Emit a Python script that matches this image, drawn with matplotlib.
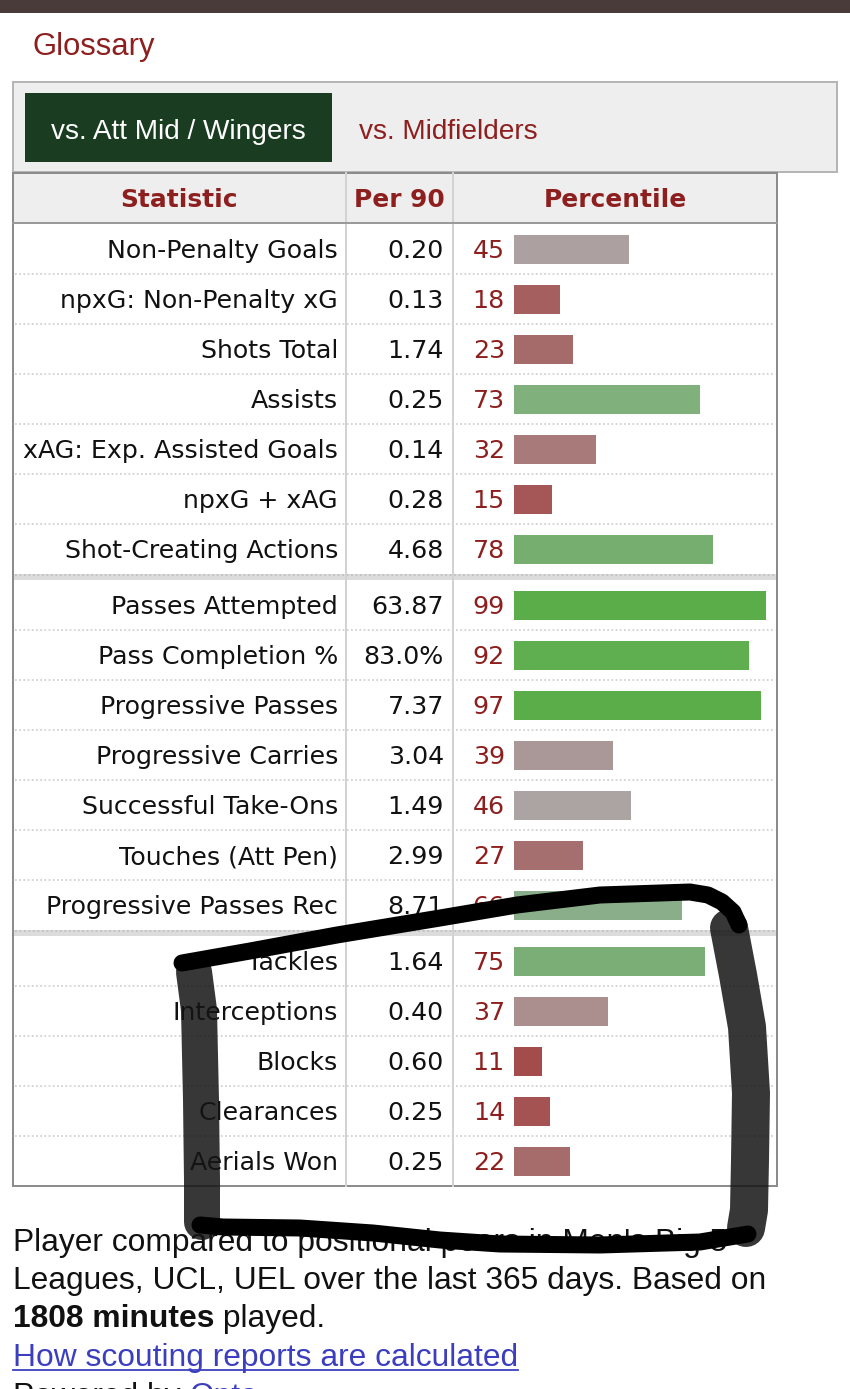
import matplotlib
matplotlib.use("Agg")
import matplotlib.pyplot as plt
from matplotlib.patches import Rectangle
import numpy as np

# ---------------- data ----------------
statistics = ["Non-Penalty Goals", "npxG: Non-Penalty xG", "Shots Total", "Assists",
              "xAG: Exp. Assisted Goals", "npxG + xAG", "Shot-Creating Actions",
              "Passes Attempted", "Pass Completion %", "Progressive Passes",
              "Progressive Carries", "Successful Take-Ons", "Touches (Att Pen)",
              "Progressive Passes Rec",
              "Tackles", "Interceptions", "Blocks", "Clearances", "Aerials Won"]
per90 = ["0.20", "0.13", "1.74", "0.25", "0.14", "0.28", "4.68",
         "63.87", "83.0%", "7.37", "3.04", "1.49", "2.99", "8.71",
         "1.64", "0.40", "0.60", "0.25", "0.25"]
percentiles = [45, 18, 23, 73, 32, 15, 78,
               99, 92, 97, 39, 46, 27, 66,
               75, 37, 11, 14, 22]
group_sizes = [7, 7, 5]
headers = ["Statistic", "Per 90", "Percentile"]
tabs = ["vs. Att Mid / Wingers", "vs. Midfielders"]
footer_lines = ["Player compared to positional peers in Men's Big 5",
                "Leagues, UCL, UEL over the last 365 days. Based on"]
minutes_text = "1808 minutes"
link_text = "How scouting reports are calculated"

# style: bar colours (FBref percentile gradient)
bar_colors = ["#aca0a0", "#a65f5f", "#a56b6b", "#80b07c", "#a87a7a", "#a55656", "#76ae70",
              "#5aad48", "#5fae50", "#5aad48", "#aa9797", "#aca3a3", "#a66f6f", "#8aae8a",
              "#7aae76", "#ab8e8e", "#a44c4c", "#a55252", "#a66b6b"]

# ---------------- layout helpers ----------------
W, H, DPI = 850, 1389, 100
def pt(px):
    return px * 72.0 / DPI

DARKRED = "#8e1f1f"
BODY_FONT = "DejaVu Sans"
UI_FONT = "Liberation Sans"

fig = plt.figure(figsize=(W / DPI, H / DPI), dpi=DPI)
fig.patch.set_facecolor("white")
ax = fig.add_axes([0, 0, 1, 1])
ax.set_xlim(0, W)
ax.set_ylim(H, 0)
ax.axis("off")

# top dark strip
ax.add_patch(Rectangle((0, 0), W, 13, color="#4a3b3b", lw=0))
ax.text(32, 55, "Glossary", fontsize=pt(31), color=DARKRED, family=UI_FONT, va="baseline")

# tab box
ax.add_patch(Rectangle((13, 82), 824, 90, facecolor="#eeeeee", edgecolor="#b5b5b5", lw=pt(2)))
ax.add_patch(Rectangle((25, 93), 307, 69, color="#1a3c20", lw=0))
ax.text(178, 139, tabs[0], fontsize=pt(28), color="white", family=UI_FONT, ha="center", va="baseline")
ax.text(359, 139, tabs[1], fontsize=pt(28), color=DARKRED, family=UI_FONT, ha="left", va="baseline")

# table geometry
T_L, T_R, T_TOP, HEAD_B = 13, 777, 173, 223
COL1, COL2 = 346, 453
ROW_H = 50
BAND = 6
row_centers = []
y0 = HEAD_B + 1
group_bounds = []
for gi, n in enumerate(group_sizes):
    for i in range(n):
        row_centers.append(y0 + ROW_H / 2 + ROW_H * i)
    y_end = y0 + ROW_H * n
    group_bounds.append((y0, y_end))
    y0 = y_end + BAND
T_BOT = group_bounds[-1][1]

ax.add_patch(Rectangle((T_L, T_TOP), T_R - T_L, T_BOT - T_TOP, facecolor="white", edgecolor="none"))
ax.add_patch(Rectangle((T_L, T_TOP), T_R - T_L, HEAD_B - T_TOP, facecolor="#eeeeee", edgecolor="none"))

# row dotted separators
for gi, (ys, ye) in enumerate(group_bounds):
    n = group_sizes[gi]
    for i in range(1, n):
        yy = ys + ROW_H * i
        ax.plot([T_L + 2, T_R - 2], [yy, yy], color="#c9c9c9", lw=pt(1.5),
                linestyle=(0, (1.2, 1.6)), solid_capstyle="butt")
    if gi < len(group_bounds) - 1:
        ax.add_patch(Rectangle((T_L, ye), T_R - T_L, BAND, facecolor="#dcdcdc", edgecolor="none"))
        ax.plot([T_L + 2, T_R - 2], [ye + 1, ye + 1], color="#bdbdbd", lw=pt(1.6),
                linestyle=(0, (1.2, 1.6)))

# column separators
for cx in (COL1, COL2):
    ax.plot([cx, cx], [T_TOP, T_BOT], color="#d2d2d2", lw=pt(2))
# header bottom and outer border
ax.plot([T_L, T_R], [HEAD_B, HEAD_B], color="#9a9a9a", lw=pt(2))
ax.add_patch(Rectangle((T_L, T_TOP), T_R - T_L, T_BOT - T_TOP, facecolor="none",
                       edgecolor="#8c8c8c", lw=pt(2)))

# header text
hy = 207
HFS = pt(24.9)
ax.text((T_L + COL1) / 2, hy, headers[0], fontsize=HFS, fontweight="bold", color=DARKRED,
        family=BODY_FONT, ha="center", va="baseline")
ax.text((COL1 + COL2) / 2, hy, headers[1], fontsize=HFS, fontweight="bold", color=DARKRED,
        family=BODY_FONT, ha="center", va="baseline")
ax.text((COL2 + T_R) / 2, hy, headers[2], fontsize=HFS, fontweight="bold", color=DARKRED,
        family=BODY_FONT, ha="center", va="baseline")

# body text
BFS = pt(25.2)
for name, val, pc, yc in zip(statistics, per90, percentiles, row_centers):
    ax.text(338, yc + 9, name, fontsize=BFS, color="#111111", family=BODY_FONT,
            ha="right", va="baseline")
    ax.text(444, yc + 9, val, fontsize=BFS, color="#111111", family=BODY_FONT,
            ha="right", va="baseline")
    ax.text(505, yc + 9, str(pc), fontsize=BFS, color=DARKRED, family=BODY_FONT,
            ha="right", va="baseline")

# footer
fy = [1251, 1289, 1327, 1366, 1405]
FS = pt(31.8)
for txt, yy in zip(footer_lines, fy[:2]):
    ax.text(13, yy, txt, fontsize=FS, color="#111111", family=UI_FONT, va="baseline")
t_bold = ax.text(13, fy[2], minutes_text, fontsize=FS, fontweight="bold", color="#111111",
                 family=UI_FONT, va="baseline")
t_link = ax.text(13, fy[3], link_text, fontsize=FS, color="#3b3fbf", family=UI_FONT, va="baseline")
t_pow = ax.text(13, fy[4], "Powered by ", fontsize=FS, color="#111111", family=UI_FONT, va="baseline")

fig.canvas.draw()
r = fig.canvas.get_renderer()
inv = ax.transData.inverted()
def right_edge(t):
    bb = t.get_window_extent(renderer=r)
    return inv.transform((bb.x1, bb.y0))[0]
ax.text(right_edge(t_bold), fy[2], " played.", fontsize=FS, color="#111111", family=UI_FONT,
        va="baseline")
ax.plot([13, right_edge(t_link)], [fy[3] + 4, fy[3] + 4], color="#3b3fbf", lw=pt(1.8))
ax.text(right_edge(t_pow), fy[4], "Opta", fontsize=FS, color="#3b3fbf", family=UI_FONT,
        va="baseline")

# ---------------- bars (percentile scale 0-100) ----------------
bax = fig.add_axes([514 / W, 0, 255 / W, 1])
bax.set_xlim(0, 100)
bax.set_ylim(H, 0)
bax.axis("off")
bax.patch.set_alpha(0)
bax.barh(row_centers, percentiles, height=29, left=0, color=bar_colors, edgecolor="none")

# ---------------- hand-drawn marker loop ----------------
sax = fig.add_axes([0, 0, 1, 1])
sax.set_xlim(0, W)
sax.set_ylim(H, 0)
sax.axis("off")
sax.patch.set_alpha(0)

top_stroke_x = [182, 250, 337, 440, 517, 600, 690, 708, 722, 733, 739]
top_stroke_y = [963, 951, 935, 918, 905, 895, 892, 895, 902, 912, 925]
right_stroke_x = [729, 738, 747, 751, 750, 749, 746]
right_stroke_y = [928, 975, 1027, 1093, 1160, 1210, 1228]
bottom_stroke_x = [200, 223, 300, 373, 440, 500, 600, 700, 748]
bottom_stroke_y = [1225, 1227, 1228, 1233, 1240, 1244, 1245, 1242, 1234]
left_stroke_x = [194, 199, 201, 202, 202]
left_stroke_y = [972, 1010, 1100, 1180, 1222]

sax.plot(left_stroke_x, left_stroke_y, color="#141414", alpha=0.85, lw=pt(36),
         solid_capstyle="round", solid_joinstyle="round")
sax.plot(right_stroke_x, right_stroke_y, color="#141414", alpha=0.85, lw=pt(38),
         solid_capstyle="round", solid_joinstyle="round")
sax.plot(top_stroke_x, top_stroke_y, color="black", lw=pt(17),
         solid_capstyle="round", solid_joinstyle="round")
sax.plot(bottom_stroke_x, bottom_stroke_y, color="black", lw=pt(17),
         solid_capstyle="round", solid_joinstyle="round")

fig.savefig("out.png", dpi=DPI)
